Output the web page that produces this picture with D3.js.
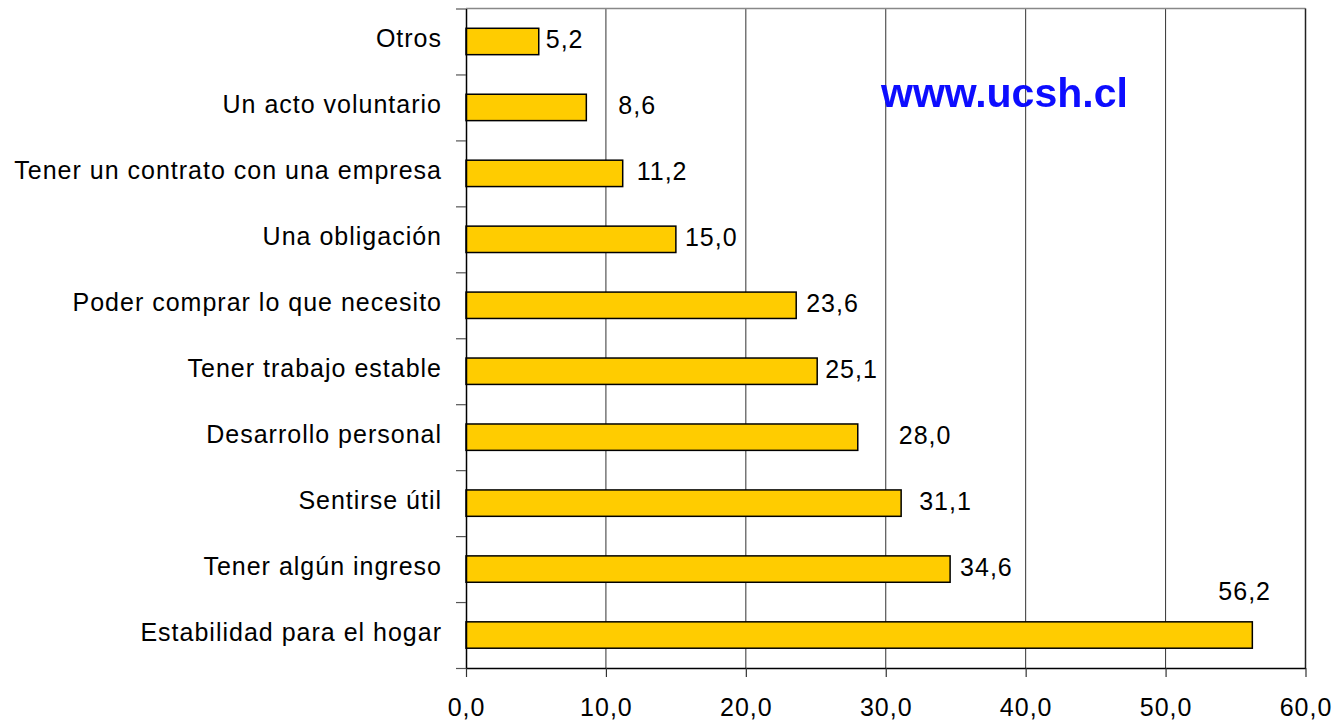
<!DOCTYPE html>
<html>
<head>
<meta charset="utf-8">
<script src="https://cdn.jsdelivr.net/npm/d3@7"></script>
<style>
  body { margin: 0; background: #fff; }
  text { font-family: "Liberation Sans", Arial, sans-serif; }
</style>
</head>
<body>
<svg id="chart" width="1333" height="721"></svg>
<script>
let categories = [
  "Otros",
  "Un acto voluntario",
  "Tener un contrato con una empresa",
  "Una obligación",
  "Poder comprar lo que necesito",
  "Tener trabajo estable",
  "Desarrollo personal",
  "Sentirse útil",
  "Tener algún ingreso",
  "Estabilidad para el hogar"
];
let values = [5.2, 8.6, 11.2, 15.0, 23.6, 25.1, 28.0, 31.1, 34.6, 56.2];
let xTicks = [0, 10, 20, 30, 40, 50, 60];

// label nudges (px) - the original labels sit at uneven distances
let labelDx = [7, 32, 14, 9, 10, 8, 41, 18, 10, -34];
let labelDy = [0, 0, 0, 0, 0, 0, 0, 0, 0, -42];

let margin = {top: 8.5, right: 27.5, bottom: 53, left: 466};
let width = 1333 - margin.left - margin.right;
let height = 721 - margin.top - margin.bottom;

let es = d3.formatLocale({decimal: ",", thousands: ".", grouping: [3], currency: ["", ""]});
let fmt = es.format(".1f");

let svg = d3.select("#chart");
let g = svg.append("g").attr("transform", `translate(${margin.left},${margin.top})`);

let x = d3.scaleLinear().domain([0, 60]).range([0, width]);
let y = d3.scaleBand().domain(categories).range([0, height]).paddingInner(0.6).paddingOuter(0.3);
let yEdge = d3.scaleLinear().domain([0, categories.length]).range([0, height]);

// watermark (sits under the gridlines)
svg.append("defs").append("filter").attr("id", "soft")
  .append("feGaussianBlur").attr("stdDeviation", 0.7);
svg.append("text")
  .attr("x", 881).attr("y", 107)
  .attr("font-size", 41).attr("font-weight", "bold")
  .attr("fill", "#0a0aff")
  .attr("filter", "url(#soft)")
  .text("www.ucsh.cl");

// gridlines
g.selectAll("line.grid")
  .data(xTicks.slice(1, -1))
  .enter().append("line")
  .attr("class", "grid")
  .attr("x1", d => x(d)).attr("x2", d => x(d))
  .attr("y1", 0).attr("y2", height)
  .attr("stroke", "#333").attr("stroke-width", 1);

// frame top/right
g.append("line").attr("x1", 0).attr("x2", width).attr("y1", 0).attr("y2", 0)
  .attr("stroke", "#888").attr("stroke-width", 1.5);
g.append("line").attr("x1", width).attr("x2", width).attr("y1", 0).attr("y2", height)
  .attr("stroke", "#222").attr("stroke-width", 1.5);

// bars
g.selectAll("rect.bar")
  .data(values)
  .enter().append("rect")
  .attr("class", "bar")
  .attr("x", 0)
  .attr("y", (d, i) => y(categories[i]))
  .attr("width", d => x(d))
  .attr("height", y.bandwidth())
  .attr("fill", "#ffcc00")
  .attr("stroke", "#000")
  .attr("stroke-width", 1.5);

// value labels
g.selectAll("text.val")
  .data(values)
  .enter().append("text")
  .attr("class", "val")
  .attr("x", (d, i) => x(d) + labelDx[i])
  .attr("y", (d, i) => y(categories[i]) + y.bandwidth() / 2 + 7 + labelDy[i])
  .attr("font-size", 25)
  .attr("letter-spacing", 1)
  .attr("fill", "#000")
  .text(d => fmt(d));

// category labels
g.selectAll("text.cat")
  .data(categories)
  .enter().append("text")
  .attr("class", "cat")
  .attr("x", -24)
  .attr("y", d => y(d) + y.bandwidth() / 2 + 6)
  .attr("text-anchor", "end")
  .attr("font-size", 25)
  .attr("letter-spacing", 1)
  .attr("fill", "#000")
  .text(d => d);

// left axis, ticks between categories
let yAxis = g.append("g")
  .call(d3.axisLeft(yEdge).tickValues(d3.range(categories.length + 1)).tickFormat("").tickSize(10).tickSizeOuter(0));
yAxis.select(".domain").attr("stroke", "#000").attr("stroke-width", 1.5);
yAxis.selectAll(".tick line").attr("stroke", "#555").attr("stroke-width", 1.2);

// bottom axis
let xAxis = g.append("g")
  .attr("transform", `translate(0,${height})`)
  .call(d3.axisBottom(x).tickValues(xTicks).tickFormat(fmt).tickSize(9).tickPadding(21).tickSizeOuter(0));
xAxis.select(".domain").attr("stroke", "#000").attr("stroke-width", 1.5);
xAxis.selectAll(".tick line").attr("stroke", "#333").attr("stroke-width", 1.2);
xAxis.selectAll(".tick text")
  .attr("font-size", 25)
  .attr("letter-spacing", 1)
  .attr("fill", "#000")
  .style("font-family", "'Liberation Sans', Arial, sans-serif");
</script>
</body>
</html>
